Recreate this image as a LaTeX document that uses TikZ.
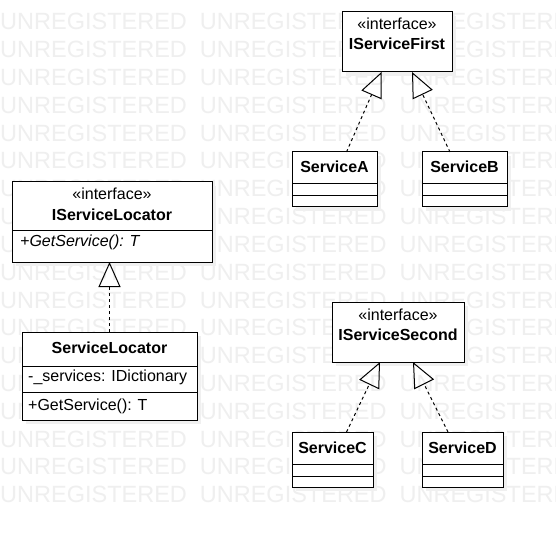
\documentclass[tikz,border=0pt]{standalone}
\usepackage{fontspec}
\setmainfont{Liberation Sans}
\usetikzlibrary{arrows.meta,calc,shadows}
\definecolor{wm}{HTML}{EFEFEF}
\definecolor{shd}{HTML}{F0F0F0}
\begin{document}
\begin{tikzpicture}[x=1pt,y=-1pt,
  box/.style={draw=black,line width=1pt,fill=white,inner sep=0pt,outer sep=0pt,
    drop shadow={shadow xshift=4pt,shadow yshift=-4pt,fill=shd,opacity=1}},
  sep/.style={line width=1pt},
  txt/.style={inner sep=0pt,anchor=base,font=\fontsize{16}{19}\selectfont},
  btxt/.style={txt,font=\fontsize{16}{19}\selectfont\bfseries},
  ltxt/.style={txt,anchor=base west},
  wmark/.style={inner sep=0pt,anchor=base west,text=wm,font=\fontsize{23.5}{28}\selectfont},
  realize/.style={dash pattern=on 3pt off 3pt,line width=1pt,
    -{Triangle[open,length=25pt,width=22pt,line width=1pt]}},
]
\useasboundingbox (0,0) rectangle (556,537);
\fill[white] (0,0) rectangle (556,537);
% watermark
\foreach \r in {0,...,17}{
  \foreach \i in {0,1,2}{
    \node[wmark] (wm\r\i) at ({199.7*\i},{30+27.8*\r}) {UNREGISTERED};
  }
}
% IServiceLocator
\node[box,minimum width=200pt,minimum height=80pt] (islo) at (112,222) {};
\draw[sep] ($(islo.north west)+(0,48)$) -- ($(islo.north east)+(0,48)$);
\node[txt] (islo-st) at (112,200) {«interface»};
\node[btxt] (islo-nm) at (112,220) {IServiceLocator};
\node[ltxt] (islo-op) at (20,246.5) {\itshape +GetService(): T};
% ServiceLocator
\node[box,minimum width=175pt,minimum height=88pt] (slo) at (109.5,376) {};
\draw[sep] ($(slo.north west)+(0,34)$) -- ($(slo.north east)+(0,34)$);
\draw[sep] ($(slo.north west)+(0,60)$) -- ($(slo.north east)+(0,60)$);
\node[btxt] (slo-nm) at (109.5,353.3) {ServiceLocator};
\node[ltxt] (slo-at) at (28,381.5) {-\_services: IDictionary};
\node[ltxt] (slo-op) at (28,410) {+GetService(): T};
% IServiceFirst
\node[box,minimum width=110pt,minimum height=60pt] (ifirst) at (397,42) {};
\node[txt] (ifirst-st) at (397,30) {«interface»};
\node[btxt] (ifirst-nm) at (397,50) {IServiceFirst};
% ServiceA / ServiceB
\node[box,minimum width=85pt,minimum height=55pt] (sa) at (334.5,179.5) {};
\draw[sep] ($(sa.north west)+(0,32)$) -- ($(sa.north east)+(0,32)$);
\draw[sep] ($(sa.north west)+(0,44)$) -- ($(sa.north east)+(0,44)$);
\node[btxt] (sa-nm) at (334.5,172.5) {ServiceA};
\node[box,minimum width=85pt,minimum height=55pt] (sb) at (464.5,179.5) {};
\draw[sep] ($(sb.north west)+(0,32)$) -- ($(sb.north east)+(0,32)$);
\draw[sep] ($(sb.north west)+(0,44)$) -- ($(sb.north east)+(0,44)$);
\node[btxt] (sb-nm) at (464.5,172.5) {ServiceB};
% IServiceSecond
\node[box,minimum width=132pt,minimum height=60pt] (isec) at (398,332) {};
\node[txt] (isec-st) at (398,320.5) {«interface»};
\node[btxt] (isec-nm) at (398,340) {IServiceSecond};
% ServiceC / ServiceD
\node[box,minimum width=81pt,minimum height=55pt] (sc) at (332.5,459.5) {};
\draw[sep] ($(sc.north west)+(0,32)$) -- ($(sc.north east)+(0,32)$);
\draw[sep] ($(sc.north west)+(0,44)$) -- ($(sc.north east)+(0,44)$);
\node[btxt] (sc-nm) at (332.5,453) {ServiceC};
\node[box,minimum width=81pt,minimum height=55pt] (sd) at (462.5,459.5) {};
\draw[sep] ($(sd.north west)+(0,32)$) -- ($(sd.north east)+(0,32)$);
\draw[sep] ($(sd.north west)+(0,44)$) -- ($(sd.north east)+(0,44)$);
\node[btxt] (sd-nm) at (462.5,453) {ServiceD};
% realizations
\draw[realize] (slo.north) -- (slo.north |- islo.south);
\draw[realize] ($(sa.north)+(12,0)$) -- ($(ifirst.south)+(-15.5,0)$);
\draw[realize] ($(sb.north)+(-14.5,0)$) -- ($(ifirst.south)+(15,0)$);
\draw[realize] ($(sc.north)+(14,0)$) -- ($(isec.south)+(-18,0)$);
\draw[realize] ($(sd.north)+(-14.5,0)$) -- ($(isec.south)+(15,0)$);
\end{tikzpicture}
\end{document}
